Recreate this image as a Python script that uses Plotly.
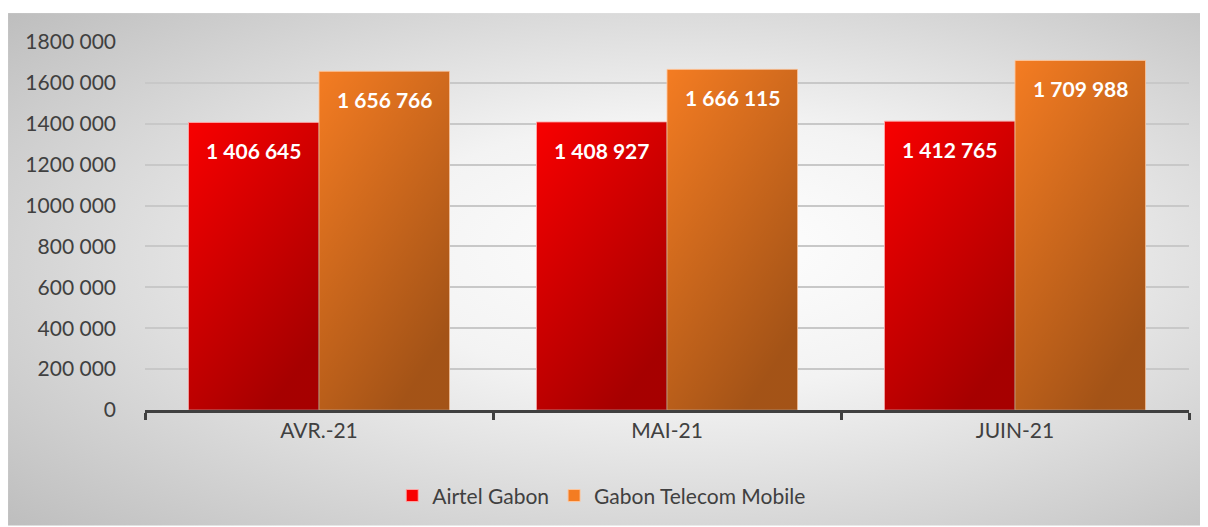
import base64
import plotly.graph_objects as go

categories = ["AVR.-21", "MAI-21", "JUIN-21"]
airtel = [1406645, 1408927, 1412765]
gabon_telecom = [1656766, 1666115, 1709988]
series_names = ["Airtel Gabon", "Gabon Telecom Mobile"]
y_ticks = [0, 200000, 400000, 600000, 800000, 1000000, 1200000, 1400000, 1600000, 1800000]


def tick_label(v):
    return "0" if v == 0 else f"{v // 1000} {v % 1000:03d}"


def data_label(v):
    return f"{v:,}".replace(",", " ")


def svg_uri(svg):
    return "data:image/svg+xml;base64," + base64.b64encode(svg.encode()).decode()


FONT = "Lato"
TXT = "#404040"

bg_src = svg_uri("""<svg xmlns='http://www.w3.org/2000/svg' width='1200' height='514' preserveAspectRatio='none'>
<defs><radialGradient id='g' cx='55%' cy='50%' r='75%' fx='58%' fy='45%'>
<stop offset='0%' stop-color='#ffffff'/>
<stop offset='35%' stop-color='#f3f3f3'/>
<stop offset='100%' stop-color='#bdbdbd'/>
</radialGradient></defs>
<rect width='1200' height='514' fill='url(#g)'/></svg>""")

# darkening shade laid over each bar (top-left bright -> bottom-right dark)
shade_src = svg_uri("""<svg xmlns='http://www.w3.org/2000/svg' width='100' height='100' preserveAspectRatio='none'>
<defs><linearGradient id='s' x1='0' y1='0' x2='0.6' y2='1'>
<stop offset='0%' stop-color='#000' stop-opacity='0'/>
<stop offset='100%' stop-color='#000' stop-opacity='0.33'/>
</linearGradient></defs>
<rect x='0' y='0' width='100' height='100' fill='url(#s)'/></svg>""")

fig = go.Figure()
fig.add_trace(go.Bar(
    name=series_names[0], x=categories, y=airtel,
    marker=dict(color="#f80000", line=dict(color="rgba(255,170,170,0.9)", width=1)),
))
fig.add_trace(go.Bar(
    name=series_names[1], x=categories, y=gabon_telecom,
    marker=dict(color="#f47c22", line=dict(color="rgba(255,200,160,0.9)", width=1)),
))

BARGAP = 0.25
half = (1 - BARGAP) / 4  # half a bar width, in category units
annotations = []
images = [dict(source=bg_src, xref="paper", yref="paper", x=-0.1312, y=1.0786,
               sizex=1.1494, sizey=1.393, sizing="stretch", layer="below",
               xanchor="left", yanchor="top")]
for i, cat in enumerate(categories):
    for vals, sign in ((airtel, -1), (gabon_telecom, 1)):
        annotations.append(dict(
            x=i + sign * half, y=vals[i], xref="x", yref="y",
            text=f"<b>{data_label(vals[i])}</b>", showarrow=False,
            yanchor="top", yshift=-14,
            font=dict(family=FONT, size=21, color="white"),
        ))
        images.append(dict(
            source=shade_src, xref="x", yref="y",
            x=i + sign * half, y=vals[i], sizex=2 * half, sizey=vals[i],
            xanchor="center", yanchor="top", sizing="stretch", layer="above",
        ))

fig.update_layout(
    width=1200, height=519,
    margin=dict(l=137, r=19, t=34, b=116),
    paper_bgcolor="white",
    plot_bgcolor="rgba(0,0,0,0)",
    barmode="group", bargap=BARGAP, bargroupgap=0,
    font=dict(family=FONT, size=21, color=TXT),
    showlegend=True,
    legend=dict(orientation="h", x=0.437, xanchor="center", y=-0.23, yanchor="middle",
                font=dict(family=FONT, size=21, color=TXT), itemwidth=30,
                bgcolor="rgba(0,0,0,0)"),
    annotations=annotations,
    images=images,
    xaxis=dict(
        showline=True, linecolor="#404040", linewidth=3,
        ticks="outside", tickson="boundaries", ticklen=7, tickwidth=3, tickcolor="#404040",
        tickfont=dict(family=FONT, size=21, color=TXT),
        showgrid=False,
    ),
    yaxis=dict(
        range=[0, 1800000],
        tickvals=y_ticks, ticktext=[tick_label(v) for v in y_ticks],
        tickfont=dict(family=FONT, size=21, color=TXT),
        showgrid=True, gridcolor="#c8c8c8", gridwidth=1.5,
        zeroline=False, showline=False, ticks="",
        ticklabelstandoff=28,
    ),
)

fig.write_html("out.html")
